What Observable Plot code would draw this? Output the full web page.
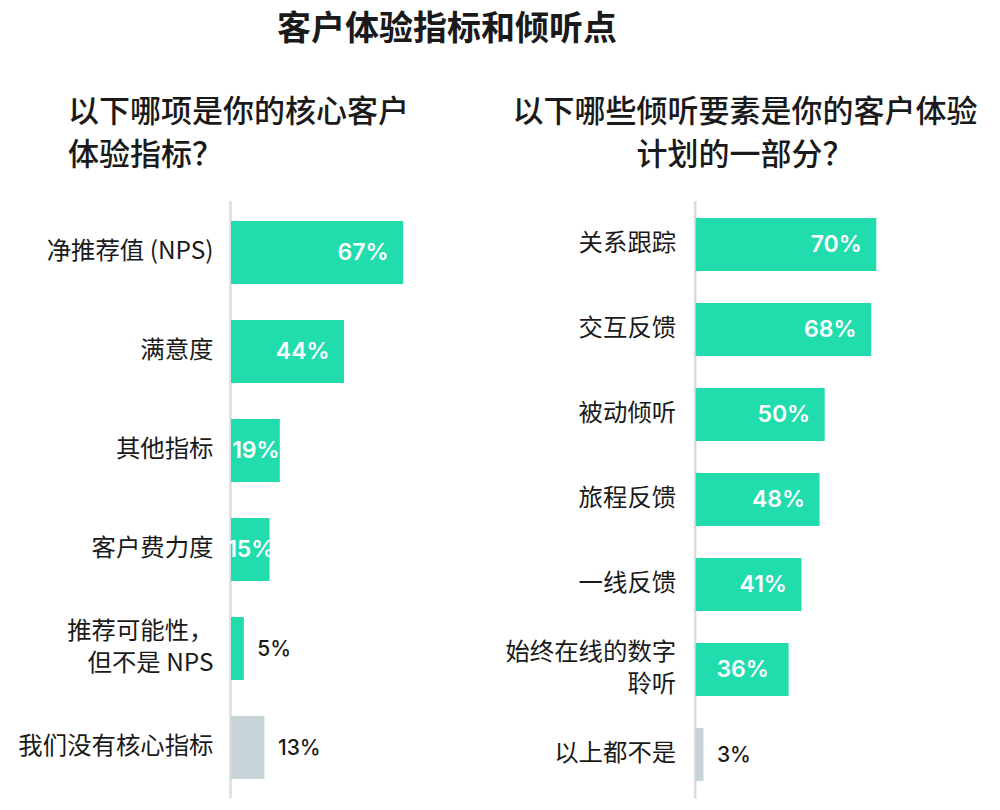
<!DOCTYPE html>
<html>
<head>
<meta charset="utf-8">
<script src="https://cdn.jsdelivr.net/npm/d3@7"></script>
<script src="https://cdn.jsdelivr.net/npm/@observablehq/plot@0.6"></script>
<style>
  html, body { margin: 0; padding: 0; background: #fff; }
  #wrap { position: relative; width: 1000px; height: 810px; overflow: hidden; font-family: "Noto Sans CJK SC", sans-serif; color: #1a1a1a; }
  .t { position: absolute; white-space: nowrap; }
  #title { left: 0; width: 894px; top: 2px; text-align: center; font-size: 34px; font-weight: 700; line-height: 48px; }
  #subL { left: 68px; top: 87px; font-size: 31px; font-weight: 500; line-height: 43px; }
  #subR { left: 490px; width: 510px; top: 87px; font-size: 31px; font-weight: 500; line-height: 43px; text-align: center; }
  #left { position: absolute; left: 0; top: 0; }
  #right { position: absolute; left: 470px; top: 0; }
</style>
</head>
<body>
<div id="wrap">
  <div class="t" id="title">客户体验指标和倾听点</div>
  <div class="t" id="subL">以下哪项是你的核心客户<br>体验指标？</div>
  <div class="t" id="subR">以下哪些倾听要素是你的客户体验<br>计划的一部分？</div>
  <div id="left"></div>
  <div id="right"></div>
</div>
<script>
const leftCategories = ["净推荐值 (NPS)", "满意度", "其他指标", "客户费力度", "推荐可能性，\n但不是 NPS", "我们没有核心指标"];
const leftValues = [67, 44, 19, 15, 5, 13];
const rightCategories = ["关系跟踪", "交互反馈", "被动倾听", "旅程反馈", "一线反馈", "始终在线的数字\n聆听", "以上都不是"];
const rightValues = [70, 68, 50, 48, 41, 36, 3];

const TEAL = "#21dcad";
const GRAY = "#c7d4d8";
const NUMFONT = "Inter, sans-serif";

function chart(cats, vals, opt) {
  const data = cats.map((c, i) => ({cat: c, v: vals[i], last: i === cats.length - 1}));
  const fmt = d => d.v + "%";
  return Plot.plot({
    width: opt.width,
    height: 810,
    marginLeft: opt.marginLeft,
    marginRight: opt.marginRight,
    marginTop: opt.marginTop,
    marginBottom: opt.marginBottom,
    style: {fontFamily: "\"Noto Sans CJK SC\", sans-serif", color: "#1a1a1a", background: "transparent", overflow: "visible"},
    x: {domain: [0, opt.xmax], axis: null},
    y: {domain: cats, paddingInner: opt.pad, paddingOuter: opt.pad / 2, axis: null},
    marks: [
      Plot.ruleX([0], {stroke: "#dcdcdc", strokeWidth: 2.5, dx: -1}),
      Plot.barX(data, {x1: 0, x2: "v", y: "cat", fill: d => d.last ? GRAY : TEAL}),
      Plot.text(data.filter(d => d.v >= 40), {x: "v", y: "cat", text: fmt, textAnchor: "end", dx: -15, fill: "#fff", fontSize: 23, fontWeight: 600, fontFamily: NUMFONT}),
      Plot.text(data.filter(d => d.v >= 14 && d.v < 40), {x: d => d.v / 2, y: "cat", text: fmt, textAnchor: "middle", fill: "#fff", fontSize: 23, fontWeight: 600, fontFamily: NUMFONT}),
      Plot.text(data.filter(d => d.v < 14), {x: "v", y: "cat", text: fmt, textAnchor: "start", dx: 13, fill: "#1a1a1a", fontSize: 21, fontWeight: 500, fontFamily: NUMFONT}),
      Plot.axisY({tickSize: 0, tickPadding: opt.tickPadding, fontSize: 24.4, lineHeight: opt.lineHeight, dy: -4, label: null, fill: "#1a1a1a"})
    ]
  });
}

document.getElementById("left").append(chart(leftCategories, leftValues, {
  width: 470, marginLeft: 231, marginRight: 7.7, marginTop: 200.7, marginBottom: 11.7,
  xmax: 90, pad: 0.367, tickPadding: 18, lineHeight: 1.3
}));
document.getElementById("right").append(chart(rightCategories, rightValues, {
  width: 530, marginLeft: 225.7, marginRight: 46.3, marginTop: 201, marginBottom: 11.5,
  xmax: 100, pad: 0.373, tickPadding: 20, lineHeight: 1.3
}));
</script>
</body>
</html>
